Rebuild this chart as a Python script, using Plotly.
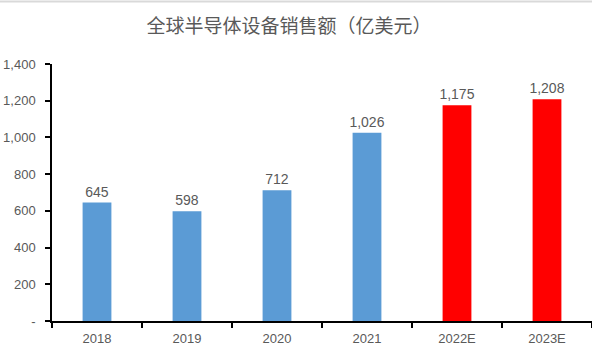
import plotly.graph_objects as go

categories = ["2018", "2019", "2020", "2021", "2022E", "2023E"]
values = [645, 598, 712, 1026, 1175, 1208]
bar_colors = ["#5B9BD5", "#5B9BD5", "#5B9BD5", "#5B9BD5", "#FF0000", "#FF0000"]
y_tickvals = [0, 200, 400, 600, 800, 1000, 1200, 1400]
y_ticktext = ["-", "200", "400", "600", "800", "1,000", "1,200", "1,400"]
title_text = "全球半导体设备销售额（亿美元）"

cjk_font = "Noto Sans CJK SC, sans-serif"
num_font = "Liberation Sans, Arial, sans-serif"
gray = "#595959"

fig = go.Figure()
fig.add_trace(go.Bar(
    x=categories,
    y=values,
    marker=dict(color=bar_colors, line=dict(width=0)),
    width=0.32,
    text=[f"{v:,}" for v in values],
    textposition="outside",
    constraintext="none",
    textfont=dict(size=14, color=gray, family=num_font),
    cliponaxis=False,
))

fig.update_layout(
    width=592,
    height=358,
    margin=dict(l=52, r=0, t=64, b=37),
    paper_bgcolor="white",
    plot_bgcolor="white",
    showlegend=False,
    title=dict(
        text=title_text,
        x=289 / 592,
        xanchor="center",
        y=1 - 26 / 358,
        yanchor="middle",
        font=dict(size=19, color=gray, family=cjk_font),
    ),
    xaxis=dict(
        type="category",
        range=[-0.5, 5.5],
        automargin=False,
        showline=True,
        linecolor="black",
        linewidth=1.5,
        ticks="outside",
        tickson="boundaries",
        ticklen=5,
        tickcolor="black",
        tickwidth=1.5,
        showgrid=False,
        ticklabelstandoff=5,
        tickfont=dict(size=13, color=gray, family=num_font),
    ),
    yaxis=dict(
        range=[0, 1400],
        tickvals=y_tickvals,
        ticktext=y_ticktext,
        automargin=False,
        showline=True,
        linecolor="black",
        linewidth=1.5,
        ticks="outside",
        ticklen=5,
        tickcolor="black",
        tickwidth=1.5,
        showgrid=False,
        zeroline=False,
        ticklabelstandoff=7,
        tickfont=dict(size=13, color=gray, family=num_font),
    ),
    shapes=[dict(
        type="line", xref="paper", yref="paper",
        x0=-52 / 540, x1=1, y0=1 + 62.5 / 257, y1=1 + 62.5 / 257,
        line=dict(color="#D9D9D9", width=2),
    )],
)

fig.write_html(
    "out.html",
    config={"displayModeBar": False},
    post_script="document.body.style.margin='0';",
)
